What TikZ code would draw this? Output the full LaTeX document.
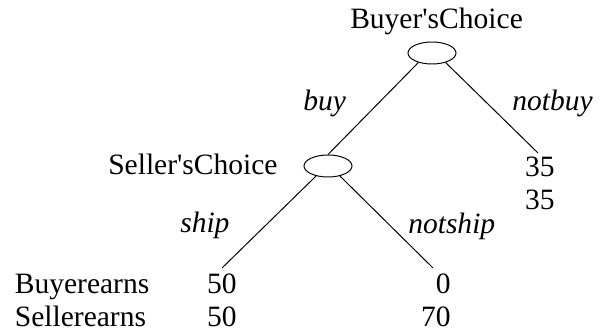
\documentclass[tikz,border=0pt]{standalone}
\usepackage{fontspec}
\usepackage{tikz}
\usetikzlibrary{shapes.geometric}
\newfontfamily\treefont{Liberation Serif}

\begin{document}
\begin{tikzpicture}[
  choice/.style={ellipse, draw, line width=0.7pt, minimum width=1.2cm,
                 minimum height=0.55cm, inner sep=0pt},
  branch/.style={line width=0.7pt},
  label/.style={inner sep=0pt, font=\treefont\fontsize{21}{25}\selectfont},
  move/.style={label, font=\treefont\itshape\fontsize{21}{25}\selectfont},
]

\useasboundingbox (0, 0) rectangle (15.025, -8.35);

% decision nodes
\node[choice] (buyer) at (10.800, -1.325) {};
\node[choice] (seller) at (8.200, -4.150) {};

\node[label, anchor=base west] (buyername) at (8.750, -0.725) {Buyer'sChoice};
\node[label, anchor=base west] (sellername) at (2.700, -4.375) {Seller'sChoice};

% branch ends
\coordinate (notbuyend) at (13.450, -3.825);
\coordinate (shipend) at (5.550, -6.700);
\coordinate (notshipend) at (10.825, -6.700);

\draw[branch] (buyer.-145) -- (seller.north);
\draw[branch] (buyer.-35) -- (notbuyend);
\draw[branch] (seller.-140) -- (shipend);
\draw[branch] (seller.-40) -- (notshipend);

\node[move, anchor=base west] (buy) at (7.575, -2.775) {buy};
\node[move, anchor=base west] (notbuy) at (12.800, -2.775) {notbuy};
\node[move, anchor=base west] (ship) at (4.500, -5.825) {ship};
\node[move, anchor=base west] (notship) at (10.200, -5.850) {notship};

% payoffs
\node[label, anchor=base east] (nb1) at (13.875, -4.425) {35};
\node[label, anchor=base east] (nb2) at (13.875, -5.250) {35};
\node[label, anchor=base east] (sh1) at (5.925, -7.350) {50};
\node[label, anchor=base east] (sh2) at (5.925, -8.175) {50};
\node[label, anchor=base east] (ns1) at (11.275, -7.350) {0};
\node[label, anchor=base east] (ns2) at (11.275, -8.175) {70};

\node[label, anchor=base west] (buyerrow) at (0.365, -7.350) {Buyerearns};
\node[label, anchor=base west] (sellerrow) at (0.365, -8.175) {Sellerearns};

\end{tikzpicture}
\end{document}
